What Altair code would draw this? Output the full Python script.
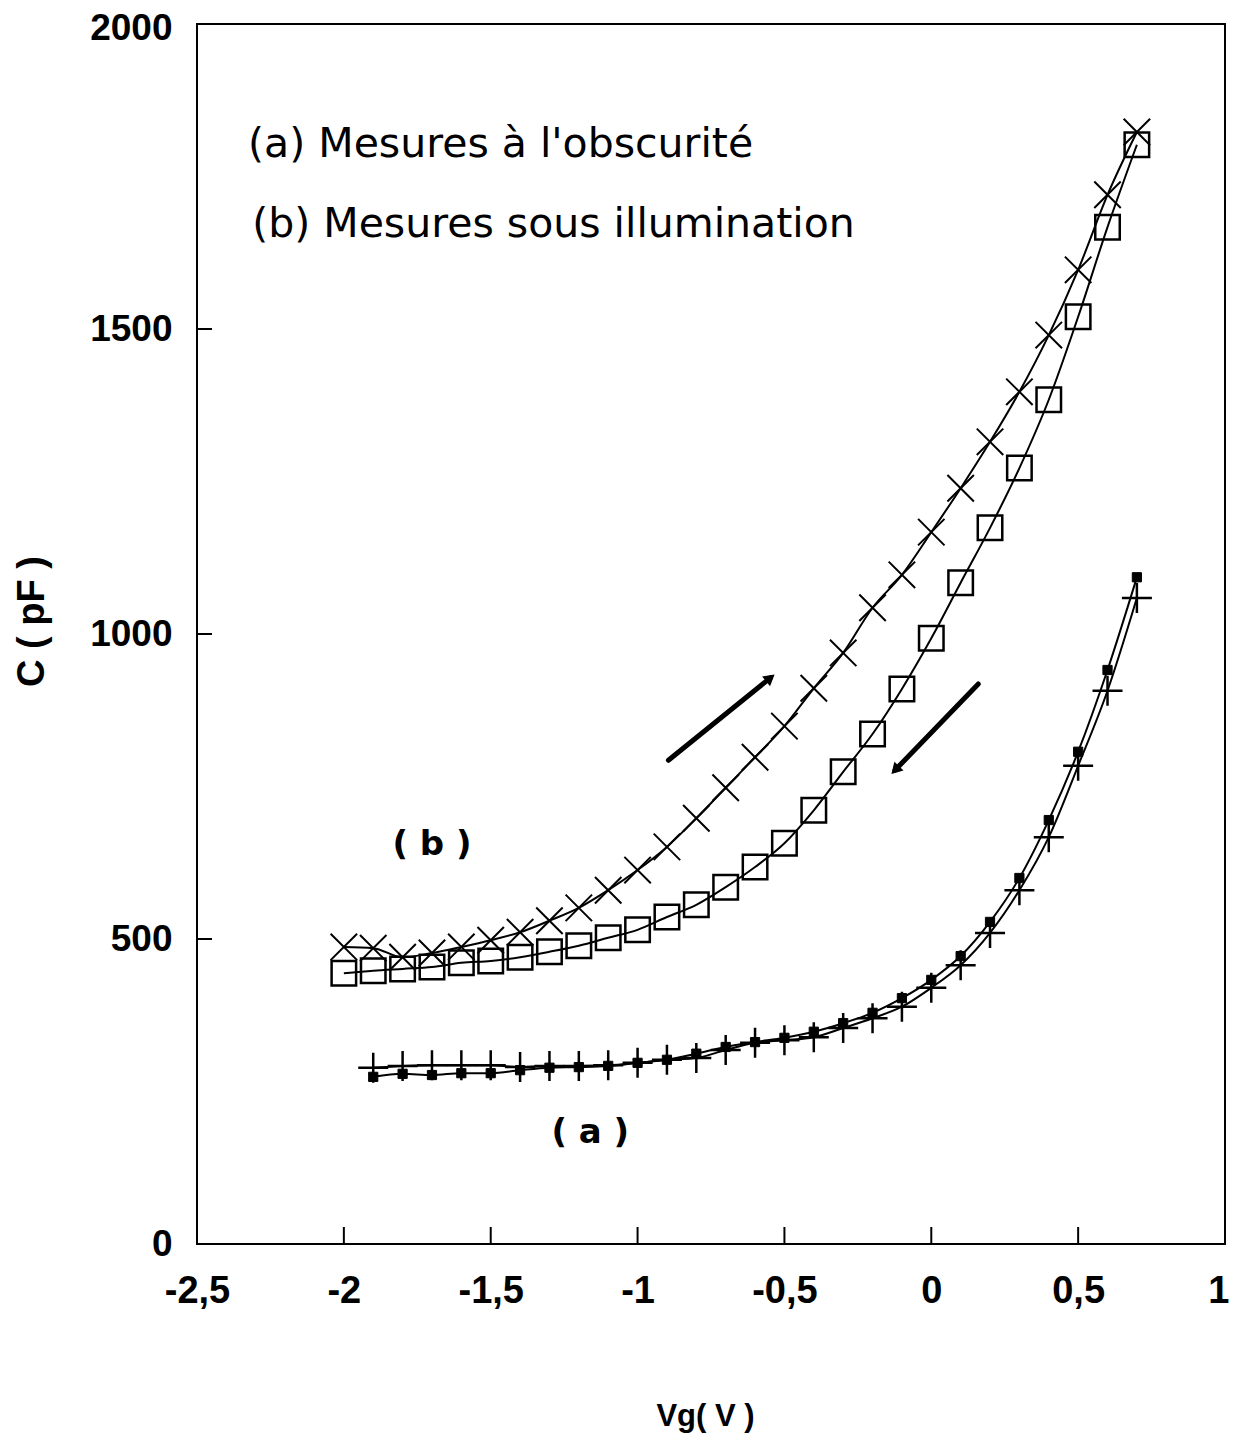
import altair as alt
import pandas as pd

# ---- data ----
vg_b = [-2.0, -1.9, -1.8, -1.7, -1.6, -1.5, -1.4, -1.3, -1.2, -1.1, -1.0, -0.9, -0.8, -0.7,
        -0.6, -0.5, -0.4, -0.3, -0.2, -0.1, 0.0, 0.1, 0.2, 0.3, 0.4, 0.5, 0.6, 0.7]
c_b_up = [487, 485, 470, 477, 487, 498, 511, 530, 551, 580, 613, 651, 698, 748,
          798, 849, 911, 969, 1043, 1097, 1167, 1239, 1315, 1397, 1490, 1597, 1720, 1823]
c_b_down = [444, 448, 451, 454, 461, 464, 470, 479, 489, 502, 515, 536, 556, 585,
            618, 657, 711, 774, 836, 910, 993, 1084, 1174, 1272, 1384, 1520, 1667, 1802]

vg_a = [-1.9, -1.8, -1.7, -1.6, -1.5, -1.4, -1.3, -1.2, -1.1, -1.0, -0.9, -0.8, -0.7,
        -0.6, -0.5, -0.4, -0.3, -0.2, -0.1, 0.0, 0.1, 0.2, 0.3, 0.4, 0.5, 0.6, 0.7]
c_a_dots = [274, 279, 277, 280, 280, 285, 289, 290, 292, 297, 302, 312, 323,
            331, 338, 348, 362, 379, 403, 433, 472, 528, 600, 695, 807, 941, 1093]
c_a_cross = [289, 292, 293, 293, 293, 290, 292, 292, 293, 297, 302, 305, 318,
             330, 334, 339, 354, 370, 389, 420, 457, 510, 580, 667, 784, 907, 1059]

x_tick_values = [-2.5, -2.0, -1.5, -1.0, -0.5, 0.0, 0.5, 1.0]
y_tick_values = [0, 500, 1000, 1500, 2000]
x_inner_ticks = [-2.0, -1.5, -1.0, -0.5, 0.0, 0.5]
y_inner_ticks = [500, 1000, 1500]

legend_texts = ["(a) Mesures à l'obscurité", "(b) Mesures sous illumination"]
legend_vg = [-2.326, -2.312]
legend_c = [1802, 1670]

curve_labels = ["( b )", "( a )"]
curve_label_vg = [-1.70, -1.161]
curve_label_c = [654, 182]

arrow_vg_start = [-0.895, 0.160]
arrow_c_start = [793, 918]
arrow_vg_end = [-0.548, -0.123]
arrow_c_end = [928, 777]
arrow_angle = [51, 224]

# ---- tables ----
rows = []
for v, c in zip(vg_b, c_b_up):
    rows.append({"Vg": v, "C": c, "serie": "b_up"})
for v, c in zip(vg_b, c_b_down):
    rows.append({"Vg": v, "C": c, "serie": "b_down"})
for v, c in zip(vg_a, c_a_dots):
    rows.append({"Vg": v, "C": c, "serie": "a_dots"})
for v, c in zip(vg_a, c_a_cross):
    rows.append({"Vg": v, "C": c, "serie": "a_cross"})
df = pd.DataFrame(rows)

df_xt = pd.DataFrame({"Vg": x_inner_ticks})
df_yt = pd.DataFrame({"C": y_inner_ticks})
df_leg = pd.DataFrame({"Vg": legend_vg, "C": legend_c, "t": legend_texts})
df_cl = pd.DataFrame({"Vg": curve_label_vg, "C": curve_label_c, "t": curve_labels})
df_arr = pd.DataFrame({"Vg": arrow_vg_start, "C": arrow_c_start,
                       "Vg2": arrow_vg_end, "C2": arrow_c_end, "ang": arrow_angle})
df_head = pd.DataFrame({"Vg": arrow_vg_end, "C": arrow_c_end, "ang": arrow_angle})

W, H = 1028, 1220

x_scale = alt.Scale(domain=[-2.5, 1.0], nice=False, zero=False)
y_scale = alt.Scale(domain=[0, 2000], nice=False)

x_axis = alt.Axis(values=x_tick_values, labelExpr="replace(toString(datum.value), '.', ',')",
                  ticks=False, domain=False, grid=False,
                  labelFont="Liberation Sans", labelFontSize=38, labelFontWeight="bold",
                  labelColor="black", labelPadding=28, labelFlush=False,
                  labelAlign={"condition": {"test": "datum.value == 1", "value": "right"}, "value": "center"},
                  labelOffset={"condition": {"test": "datum.value == 1", "value": 4}, "value": 0},
                  title="Vg( V )", titleFont="Liberation Sans", titleFontSize=31,
                  titleFontWeight="bold", titleColor="black",
                  titleX=508, titleY=172, titleBaseline="middle", titleAlign="center")
y_axis = alt.Axis(values=y_tick_values, labelExpr="toString(datum.value)",
                  ticks=False, domain=False, grid=False,
                  labelFont="Liberation Sans", labelFontSize=37, labelFontWeight="bold",
                  labelColor="black", labelPadding=25, labelFlush=False,
                  labelOffset={"condition": {"test": "datum.value == 2000", "value": 4}, "value": 0},
                  title="C ( pF )", titleFont="Liberation Sans", titleFontSize=38,
                  titleFontWeight="bold", titleColor="black", titleAngle=270,
                  titleX=-165, titleY=597, titleBaseline="middle", titleAlign="center")

xenc = alt.X("Vg:Q", scale=x_scale, axis=x_axis)
yenc = alt.Y("C:Q", scale=y_scale, axis=y_axis)

base = alt.Chart(df)

lines = base.mark_line(color="black", strokeWidth=2, interpolate="monotone").encode(
    x=xenc, y=yenc, detail="serie:N")

X_PATH = "M-1,-1L1,1M-1,1L1,-1"
PLUS_PATH = "M-1,0L1,0M0,-1L0,1"

pts_x = base.transform_filter("datum.serie == 'b_up'").mark_point(
    shape=X_PATH, size=700, filled=False, stroke="black", strokeWidth=2, opacity=1).encode(x=xenc, y=yenc)
pts_sq = base.transform_filter("datum.serie == 'b_down'").mark_point(
    shape="square", size=600, filled=False, stroke="black", strokeWidth=2.5, opacity=1).encode(x=xenc, y=yenc)
pts_dot = base.transform_filter("datum.serie == 'a_dots'").mark_point(
    shape="square", size=85, filled=True, fill="black", stroke="black", strokeWidth=1, opacity=1).encode(x=xenc, y=yenc)
pts_plus = base.transform_filter("datum.serie == 'a_cross'").mark_point(
    shape=PLUS_PATH, size=900, filled=False, stroke="black", strokeWidth=2.5, opacity=1).encode(x=xenc, y=yenc)

xticks = alt.Chart(df_xt).mark_rule(color="black", strokeWidth=2).encode(
    x=xenc, y=alt.value(H), y2=alt.value(H - 17))
yticks = alt.Chart(df_yt).mark_rule(color="black", strokeWidth=2).encode(
    y=yenc, x=alt.value(0), x2=alt.value(15))

leg = alt.Chart(df_leg).mark_text(align="left", baseline="middle", font="DejaVu Sans",
                                  fontSize=41, color="black").encode(x=xenc, y=yenc, text="t:N")
cl = alt.Chart(df_cl).mark_text(align="center", baseline="middle", font="DejaVu Sans",
                                fontSize=34, fontWeight="bold", color="black").encode(x=xenc, y=yenc, text="t:N")

arrows = alt.Chart(df_arr).mark_rule(color="black", strokeWidth=5, strokeCap="round").encode(
    x=xenc, y=yenc, x2="Vg2:Q", y2="C2:Q")
heads = alt.Chart(df_head).mark_point(shape="triangle-up", size=160, filled=True, fill="black",
                                      opacity=1).encode(x=xenc, y=yenc, angle=alt.Angle("ang:Q", scale=None))

chart = alt.layer(lines, pts_x, pts_sq, pts_dot, pts_plus, xticks, yticks, leg, cl, arrows, heads).properties(
    width=W, height=H,
    padding={"left": 189, "top": 16, "right": 5, "bottom": 190},
    autosize=alt.AutoSizeParams(type="none"),
    background="white",
).configure_view(stroke="black", strokeWidth=2)

chart.save("out.html", embed_options={"renderer": "svg", "actions": False})
